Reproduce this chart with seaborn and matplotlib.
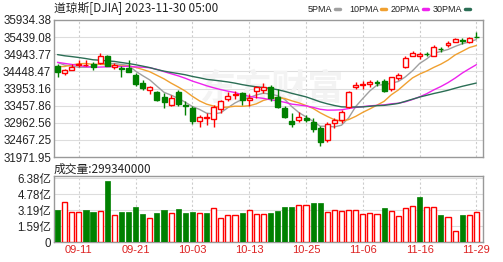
import numpy as np
import pandas as pd
import matplotlib
matplotlib.use("Agg")
import matplotlib.pyplot as plt
import seaborn as sns

# ---------------- data ----------------
dates = ["09-06", "09-07", "09-08", "09-11", "09-12", "09-13", "09-14", "09-15", "09-18", "09-19",
         "09-20", "09-21", "09-22", "09-25", "09-26", "09-27", "09-28", "09-29", "10-02", "10-03",
         "10-04", "10-05", "10-06", "10-09", "10-10", "10-11", "10-12", "10-13", "10-16", "10-17",
         "10-18", "10-19", "10-20", "10-23", "10-24", "10-25", "10-26", "10-27", "10-30", "10-31",
         "11-01", "11-02", "11-03", "11-06", "11-07", "11-08", "11-09", "11-10", "11-13", "11-14",
         "11-15", "11-16", "11-17", "11-20", "11-21", "11-22", "11-24", "11-27", "11-28", "11-29"]

opens = [34600, 34390, 34500, 34620, 34630, 34650, 34700, 34890, 34580, 34560,
         34550, 34330, 34100, 33910, 33850, 33700, 33480, 33860, 33480, 33400,
         33000, 33100, 33060, 33350, 33640, 33760, 33810, 33620, 33890, 33900,
         33990, 33700, 33380, 33000, 33050, 33100, 32990, 32800, 32470, 32950,
         33050, 33420, 34000, 34050, 34080, 34130, 34160, 33950, 34250, 34580,
         34900, 34900, 34960, 34900, 35100, 35200, 35300, 35350, 35300, 35450]
highs = [34670, 34530, 34650, 34770, 34780, 34720, 34990, 34920, 34700, 34600,
         34780, 34390, 34200, 34020, 33880, 33820, 33760, 33900, 33600, 33440,
         33180, 33250, 33480, 33620, 33860, 33880, 33850, 33790, 34030, 34120,
         34060, 33950, 33450, 33250, 33260, 33190, 33110, 32880, 32980, 33100,
         33330, 33880, 34140, 34160, 34200, 34200, 34230, 34300, 34400, 34900,
         35050, 35000, 35010, 35200, 35150, 35320, 35420, 35420, 35440, 35580]
lows = [34280, 34330, 34480, 34580, 34600, 34500, 34650, 34600, 34520, 34300,
        34420, 34030, 33900, 33800, 33590, 33400, 33440, 33450, 33200, 32930,
        32850, 32900, 32850, 33240, 33600, 33650, 33480, 33450, 33690, 33820,
        33600, 33380, 33100, 32830, 32990, 32980, 32700, 32300, 32400, 32800,
        32950, 33400, 33950, 33950, 34000, 34020, 33850, 33880, 34200, 34550,
        34880, 34800, 34880, 34880, 35020, 35150, 35290, 35250, 35280, 35400]
closes = [34443.19, 34500.73, 34576.59, 34663.72, 34645.99, 34575.53, 34907.11, 34618.24, 34624.30, 34517.73,
          34440.88, 34070.42, 33963.84, 34006.88, 33618.88, 33550.27, 33666.34, 33507.50, 33433.35, 33002.38,
          33129.55, 33119.57, 33407.58, 33604.65, 33739.30, 33804.87, 33631.14, 33670.29, 33984.54, 33997.65,
          33665.08, 33414.17, 33127.28, 32936.41, 33141.38, 33035.93, 32784.30, 32417.59, 32928.96, 33052.87,
          33274.58, 33839.08, 34061.32, 34095.86, 34152.60, 34112.27, 33891.94, 34283.10, 34337.87, 34827.70,
          34991.21, 34945.47, 34947.28, 35151.04, 35088.29, 35273.03, 35390.15, 35333.47, 35416.98, 35430.42]
# closes of the 29 sessions before the window (for the moving averages)
prior_closes = [35520.12, 35282.52, 35459.29, 35559.53, 35630.68, 35282.72, 35215.89, 35065.62, 35473.13, 35314.49,
                35123.36, 35176.15, 35281.40, 35307.63, 34946.39, 34765.74, 34474.83, 34500.66, 34463.69, 34288.83,
                34472.98, 34099.42, 34346.90, 34559.98, 34852.67, 34890.24, 34721.91, 34837.71, 34641.97]

# volume in 亿 shares, and whether the bar is red (up)
volumes = [3.21, 4.05, 3.07, 3.07, 3.27, 3.07, 3.17, 6.13, 2.74, 3.00,
           3.07, 3.48, 2.80, 2.43, 2.90, 3.21, 2.90, 3.37, 2.90, 3.07,
           2.97, 2.90, 3.44, 2.43, 2.70, 2.70, 2.97, 3.21, 2.84, 2.87,
           2.97, 3.14, 3.48, 3.54, 3.74, 3.74, 3.95, 3.95, 3.04, 3.21,
           3.14, 3.21, 3.21, 2.80, 2.97, 2.87, 3.44, 3.14, 2.64, 3.44,
           3.64, 4.52, 3.54, 3.54, 2.77, 2.50, 1.16, 2.70, 2.70, 2.9934]
vol_up = [0, 1, 1, 1, 0, 0, 1, 0, 1, 0,
          0, 0, 0, 1, 0, 0, 1, 0, 0, 0,
          1, 0, 1, 1, 1, 1, 0, 1, 1, 1,
          0, 0, 0, 0, 1, 1, 0, 0, 1, 1,
          1, 1, 1, 1, 1, 1, 0, 1, 1, 1,
          1, 0, 1, 1, 0, 1, 1, 0, 1, 1]

price_ticks = [35934.38, 35439.08, 34943.77, 34448.47, 33953.16, 33457.86, 32962.56, 32467.25, 31971.95]
vol_ticks = [0, 1.595, 3.19, 4.785, 6.38]
vol_tick_labels = ["0", "1.59亿", "3.19亿", "4.78亿", "6.38亿"]
date_tick_labels = ["09-11", "09-21", "10-03", "10-13", "10-25", "11-06", "11-16", "11-29"]
ma_windows = [5, 10, 20, 30]
ma_names = ["5PMA", "10PMA", "20PMA", "30PMA"]
ma_colors = ["#a0a0a0", "#f0a030", "#ee22ee", "#2b6e55"]
title_text = "道琼斯[DJIA] 2023-11-30 05:00"
vol_title = "成交量:299340000"

# ---------------- style ----------------
sns.set_theme(style="white")
plt.rcParams["font.family"] = ["Noto Sans CJK SC", "DejaVu Sans"]
LAT = ["Liberation Sans", "Noto Sans CJK SC", "DejaVu Sans"]

W, H = 503, 262
fig = plt.figure(figsize=(W / 100, H / 100), dpi=100)
fig.patch.set_facecolor("white")


def box(l, t, r, b):
    return [l / W, 1 - b / H, (r - l) / W, (b - t) / H]


ax = fig.add_axes(box(54, 20, 483, 157))
axv = fig.add_axes(box(54, 176, 483, 242.2))

n = len(closes)
df = pd.DataFrame({"i": np.arange(n), "date": dates, "open": opens, "high": highs,
                   "low": lows, "close": closes, "vol": volumes, "up": vol_up})
all_close = pd.Series(prior_closes + closes)
for w, name in zip(ma_windows, ma_names):
    df[name] = all_close.rolling(w).mean().iloc[len(prior_closes):].to_numpy()

RED = "#ff0000"
GREEN = "#008000"
FRAME = "#999999"
GRID = "#dddddd"

tick_idx = [dates.index(d) for d in date_tick_labels]

for a in (ax, axv):
    a.set_xlim(-0.5, n - 0.07)
    for s in a.spines.values():
        s.set_color(FRAME)
        s.set_linewidth(1.0)
    for x in tick_idx:
        a.axvline(x, color="#cccccc", lw=0.8, ls=(0, (2, 2)), zorder=0)
    a.tick_params(axis="both", length=0, pad=2, labelsize=8)

# watermark
ax.text(20, 33950, "东方财富", fontsize=26, color="#f3f3f3", fontweight="bold",
        ha="left", va="center", zorder=0.5)

# price grid
ax.set_ylim(price_ticks[-1], price_ticks[0])
ax.set_yticks(price_ticks)
ax.set_yticklabels([f"{v:.2f}" for v in price_ticks], fontsize=8.3, family=LAT, color="#222222")
for v in price_ticks[1:-1]:
    ax.axhline(v, color=GRID, lw=0.8, zorder=0)
ax.set_xticks([])

# moving averages via seaborn
for name, c in zip(ma_names, ma_colors):
    sns.lineplot(data=df, x="i", y=name, ax=ax, color=c, lw=1.0, zorder=2, legend=False)
ax.set_xlabel("")
ax.set_ylabel("")

# candles
bw = 0.7
for _, r in df.iterrows():
    up = r["close"] >= r["open"]
    c = RED if up else GREEN
    lo_b, hi_b = min(r["open"], r["close"]), max(r["open"], r["close"])
    ax.vlines(r["i"], r["low"], lo_b, color=c, lw=1.0, zorder=3)
    ax.vlines(r["i"], hi_b, r["high"], color=c, lw=1.0, zorder=3)
    h = max(hi_b - lo_b, 8)
    ax.bar(r["i"], h, bottom=lo_b, width=bw, color="white" if up else c,
           edgecolor=c, linewidth=1.0, zorder=4)

# volume via seaborn barplot
sns.barplot(data=df, x="i", y="vol", ax=axv, color=GREEN, width=0.72, native_scale=True,
            saturation=1, zorder=3)
for p, up in zip(axv.patches, df["up"]):
    if up:
        p.set_facecolor("white")
        p.set_edgecolor(RED)
        p.set_linewidth(1.0)
    else:
        p.set_facecolor(GREEN)
        p.set_edgecolor(GREEN)
        p.set_linewidth(0.5)
axv.set_xlim(-0.5, n - 0.07)
axv.set_ylim(0, 6.63)
axv.set_yticks(vol_ticks)
axv.set_yticklabels(vol_tick_labels, fontsize=8.3, family=LAT, color="#222222")
for v in vol_ticks[1:]:
    axv.axhline(v, color=GRID, lw=0.8, zorder=0)
axv.set_xticks(tick_idx)
axv.set_xticklabels(date_tick_labels, color="#dd2222", fontsize=8, family=LAT)
axv.set_xlabel("")
axv.set_ylabel("")

# texts
fig.text(54 / W, 1 - 8 / H, title_text, fontsize=8.5, va="center", ha="left", color="#222222")
fig.text(54 / W, 1 - 169 / H, vol_title, fontsize=8.5, va="center", ha="left", color="#222222")

legend_x = [308, 349, 391, 433]
for x0, name, c in zip(legend_x, ma_names, ma_colors):
    t = fig.text(x0 / W, 1 - 9 / H, name, fontsize=6.5, va="center", ha="left", color="#222222",
                 family=LAT)
    fig.canvas.draw()
    x_end = t.get_window_extent().x1
    fig.add_artist(plt.Line2D([(x_end + 2) / W, (x_end + 7) / W], [1 - 9 / H, 1 - 9 / H],
                              color=c, lw=2.5, transform=fig.transFigure))

fig.savefig("out.png", dpi=100)
